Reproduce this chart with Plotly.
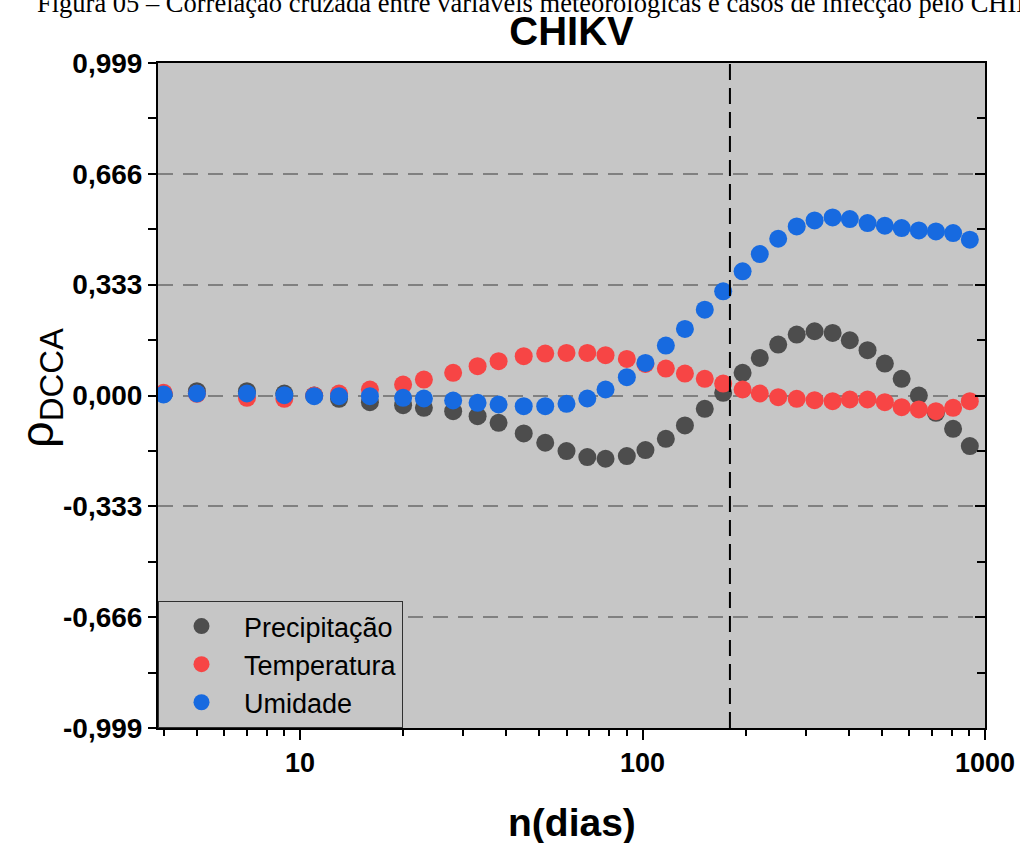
import plotly.graph_objects as go

# ---- data ----
n_dias = [4, 5, 7, 9, 11, 13, 16, 20, 23, 28, 33, 38, 45, 52, 60, 69, 78, 90, 102, 117,
          133, 152, 172, 196, 220, 249, 282, 318, 359, 403, 454, 510, 571, 641, 719, 807, 903]

precipitacao = [0.005, 0.013, 0.013, 0.006, 0.0, -0.01, -0.02, -0.029, -0.037, -0.047,
                -0.062, -0.082, -0.114, -0.142, -0.167, -0.185, -0.19, -0.182, -0.164, -0.13,
                -0.09, -0.04, 0.008, 0.068, 0.113, 0.153, 0.183, 0.193, 0.188, 0.166,
                0.136, 0.096, 0.05, 0.0, -0.052, -0.1, -0.152]

temperatura = [0.008, 0.005, -0.007, -0.01, 0.0, 0.006, 0.018, 0.033, 0.048, 0.068,
               0.088, 0.103, 0.118, 0.126, 0.128, 0.128, 0.121, 0.11, 0.095, 0.081,
               0.066, 0.05, 0.036, 0.018, 0.006, -0.005, -0.01, -0.014, -0.017, -0.012,
               -0.012, -0.02, -0.035, -0.042, -0.047, -0.037, -0.017]

umidade = [0.003, 0.006, 0.006, 0.001, -0.002, -0.002, -0.002, -0.007, -0.009, -0.015,
           -0.022, -0.027, -0.032, -0.032, -0.025, -0.009, 0.018, 0.055, 0.098, 0.15,
           0.2, 0.258, 0.313, 0.373, 0.425, 0.471, 0.508, 0.526, 0.535, 0.530,
           0.518, 0.510, 0.503, 0.496, 0.493, 0.488, 0.468]

series_names = ["Precipitação", "Temperatura", "Umidade"]
series_colors = ["#4D4D4D", "#F74545", "#176AE0"]

corte_n = 180
y_ticks = [-0.999, -0.666, -0.333, 0.0, 0.333, 0.666, 0.999]
y_ticktext = ["-0,999", "-0,666", "-0,333", "0,000", "0,333", "0,666", "0,999"]
y_minor = [-0.8325, -0.4995, -0.1665, 0.1665, 0.4995, 0.8325]
x_ticks = [10, 100, 1000]
x_minor = [4, 5, 6, 7, 8, 9, 20, 30, 40, 50, 60, 70, 80, 90,
           200, 300, 400, 500, 600, 700, 800, 900]

FONT = "Liberation Sans, Arial, sans-serif"
BG = "#C6C6C6"

fig = go.Figure()
for name, vals, col in zip(series_names, [precipitacao, temperatura, umidade], series_colors):
    fig.add_trace(go.Scatter(x=n_dias, y=vals, mode="markers", name=name,
                             marker=dict(size=18, color=col, line=dict(width=0))))

# vertical reference line (on overlay axis so it is drawn above markers)
fig.add_trace(go.Scatter(x=[corte_n, corte_n], y=[y_ticks[0], y_ticks[-1]], mode="lines",
                         line=dict(color="black", width=2, dash="16px,8px"),
                         showlegend=False, hoverinfo="skip", yaxis="y2"))

fig.update_layout(
    width=1020, height=843,
    margin=dict(l=158, r=35, t=63, b=115),
    paper_bgcolor="white", plot_bgcolor=BG,
    font=dict(family=FONT, color="black"),
    title=dict(text="CHIKV", x=0.5, xref="paper", xanchor="center",
               y=1 - 31 / 843, yref="container", yanchor="middle",
               font=dict(size=40, weight="bold", family=FONT)),
    xaxis=dict(type="log", range=[0.5854, 3.0], tickvals=x_ticks, ticktext=["10", "100", "1000"],
               ticks="outside", ticklen=10, tickwidth=2, tickcolor="black",
               showline=True, linewidth=2, linecolor="black", mirror=True,
               showgrid=False, zeroline=False, automargin=False,
               tickfont=dict(size=27, weight="bold", family=FONT),
               minor=dict(tickvals=x_minor, ticks="outside", ticklen=6, tickwidth=2,
                          tickcolor="black", showgrid=False)),
    yaxis=dict(range=[-0.999, 0.999], tickvals=y_ticks, ticktext=y_ticktext,
               ticks="outside", ticklen=8, tickwidth=2, tickcolor="black",
               showline=True, linewidth=2, linecolor="black",
               showgrid=True, gridcolor="#808080", gridwidth=2, griddash="15px,10px",
               zeroline=False, automargin=False,
               tickfont=dict(size=28, weight="bold", family=FONT),
               minor=dict(tickvals=y_minor, ticks="outside", ticklen=8, tickwidth=2,
                          tickcolor="black", showgrid=False)),
    yaxis2=dict(overlaying="y", side="right", range=[-0.999, 0.999], tickvals=y_ticks,
                showticklabels=False, ticks="inside", ticklen=10, tickwidth=2, tickcolor="black",
                showline=True, linewidth=2, linecolor="black", showgrid=False, zeroline=False,
                automargin=False,
                minor=dict(tickvals=y_minor, ticks="inside", ticklen=8, tickwidth=2,
                           tickcolor="black", showgrid=False)),
    legend=dict(x=0, y=0, xanchor="left", yanchor="bottom", xref="paper", yref="paper",
                bgcolor=BG, bordercolor="#303030", borderwidth=1,
                font=dict(size=27, family=FONT), itemwidth=75,
                tracegroupgap=0),
    showlegend=True,
)

fig.add_annotation(text="ρ<sub>DCCA</sub>", xref="paper", yref="paper",
                   x=-(158 - 40) / 827, y=1 - (388 - 63) / 665, xanchor="center", yanchor="middle",
                   textangle=-90, showarrow=False, font=dict(size=47, family=FONT))
fig.add_annotation(text="n(dias)", xref="paper", yref="paper",
                   x=0.5, y=-(822 - 728) / 665, xanchor="center", yanchor="middle",
                   showarrow=False, font=dict(size=39, weight="bold", family=FONT))
fig.add_annotation(text="Figura 05 – Correlação cruzada entre variáveis meteorológicas e casos de infecção pelo CHIKV",
                   xref="paper", yref="paper", x=-(158 - 35) / 827, y=1 + (63 - 3) / 665,
                   xanchor="left", yanchor="middle", showarrow=False,
                   font=dict(size=26.5, family="Liberation Serif, Times New Roman, serif"))

fig.write_html("out.html", config={"displayModeBar": False},
               post_script="document.body.style.margin='0';document.body.style.overflow='hidden';")
